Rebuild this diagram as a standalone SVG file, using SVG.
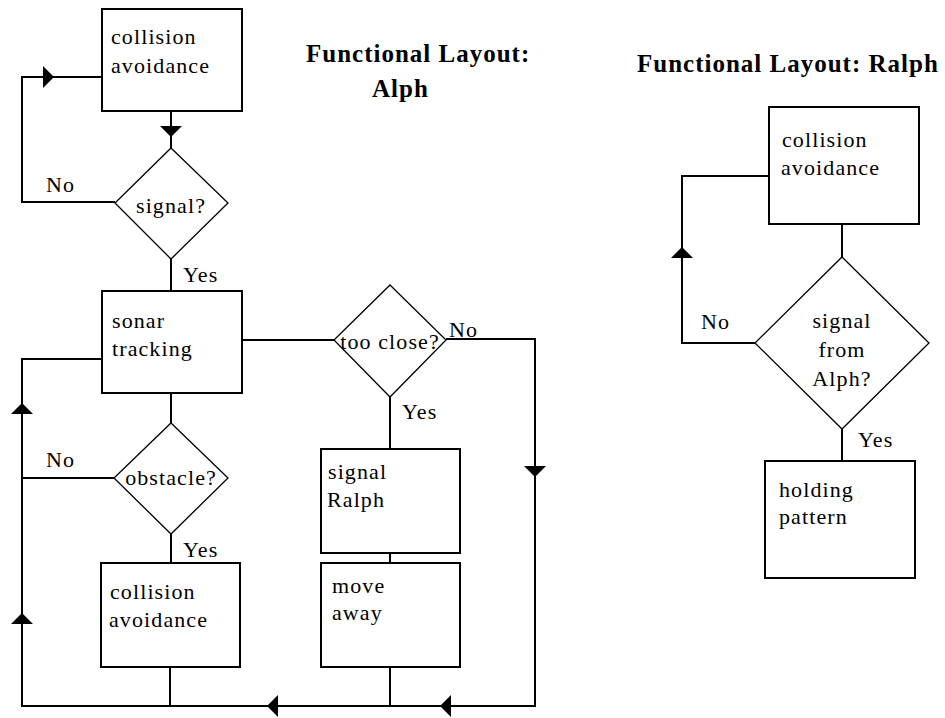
<svg xmlns="http://www.w3.org/2000/svg" xmlns:xlink="http://www.w3.org/1999/xlink" width="945" height="718" viewBox="0 0 945 718">
<style>
  .box { fill: #fff; stroke: #000; stroke-width: 2; }
  .dia { fill: #fff; stroke: #000; stroke-width: 1.3; }
  .ln { fill: none; stroke: #000; stroke-width: 2; }
  .t { font-family: "Liberation Serif", "Times New Roman", serif; font-size: 22px; letter-spacing: 1.1px; fill: #000; }
  .c { text-anchor: middle; }
  .title { font-family: "Liberation Serif", "Times New Roman", serif; font-size: 25px; font-weight: bold; letter-spacing: 1px; fill: #000; }
</style>
<defs>
  <path id="ah" d="M0,0 L-11,-11 L-11,11 Z" fill="#000"/>
</defs>
<rect width="945" height="718" fill="#fff"/>

<g id="connectors">
  <path class="ln" d="M102,77 H22 V202 H115"/>
  <path class="ln" d="M171,111 V148"/>
  <path class="ln" d="M171,259 V291"/>
  <path class="ln" d="M242,340 H334"/>
  <path class="ln" d="M446,339 H535 V706 H22 V359 H102"/>
  <path class="ln" d="M22,478 H114"/>
  <path class="ln" d="M171,393 V423"/>
  <path class="ln" d="M171,534 V563"/>
  <path class="ln" d="M170,667 V706"/>
  <path class="ln" d="M390,397 V449"/>
  <path class="ln" d="M390,553 V563"/>
  <path class="ln" d="M390,667 V706"/>
  <path class="ln" d="M769,176 H682 V343 H755"/>
  <path class="ln" d="M842,224 V257"/>
  <path class="ln" d="M842,429 V461"/>
  <use xlink:href="#ah" transform="translate(54,77)"/>
  <use xlink:href="#ah" transform="translate(171,137) rotate(90)"/>
  <use xlink:href="#ah" transform="translate(22,403) rotate(-90)"/>
  <use xlink:href="#ah" transform="translate(22,613) rotate(-90)"/>
  <use xlink:href="#ah" transform="translate(267,706) rotate(180)"/>
  <use xlink:href="#ah" transform="translate(440,706) rotate(180)"/>
  <use xlink:href="#ah" transform="translate(535,477) rotate(90)"/>
  <use xlink:href="#ah" transform="translate(682,247) rotate(-90)"/>
  <text class="t" x="46" y="192">No</text>
  <text class="t" x="183" y="282">Yes</text>
  <text class="t" x="449" y="337">No</text>
  <text class="t" x="402" y="419">Yes</text>
  <text class="t" x="46" y="467">No</text>
  <text class="t" x="183" y="557">Yes</text>
  <text class="t" x="701" y="329">No</text>
  <text class="t" x="858" y="447">Yes</text>
</g>

<g id="title-alph">
  <text class="title" x="306" y="62">Functional Layout:</text>
  <text class="title" x="372" y="97">Alph</text>
</g>
<g id="title-ralph">
  <text class="title" x="637" y="72">Functional Layout: Ralph</text>
</g>

<g id="alph-collision-top">
  <rect class="box" x="102" y="9" width="140" height="102"/>
  <text class="t" x="111" y="44">collision</text>
  <text class="t" x="111" y="73">avoidance</text>
</g>
<g id="alph-signal">
  <polygon class="dia" points="171,148 228,203 171,259 115,203"/>
  <text class="t c" x="171" y="213">signal?</text>
</g>
<g id="alph-sonar">
  <rect class="box" x="102" y="291" width="140" height="102"/>
  <text class="t" x="112" y="328">sonar</text>
  <text class="t" x="112" y="356">tracking</text>
</g>
<g id="alph-tooclose">
  <polygon class="dia" points="390,285 446,340 390,397 334,340"/>
  <text class="t c" x="390" y="349">too close?</text>
</g>
<g id="alph-obstacle">
  <polygon class="dia" points="171,423 228,478 171,534 114,478"/>
  <text class="t c" x="171" y="485">obstacle?</text>
</g>
<g id="alph-collision-bottom">
  <rect class="box" x="101" y="563" width="139" height="104"/>
  <text class="t" x="110" y="599">collision</text>
  <text class="t" x="109" y="627">avoidance</text>
</g>
<g id="alph-signal-ralph">
  <rect class="box" x="321" y="449" width="139" height="104"/>
  <text class="t" x="328" y="479">signal</text>
  <text class="t" x="327" y="507">Ralph</text>
</g>
<g id="alph-move-away">
  <rect class="box" x="321" y="563" width="139" height="104"/>
  <text class="t" x="332" y="593">move</text>
  <text class="t" x="332" y="620">away</text>
</g>

<g id="ralph-collision">
  <rect class="box" x="769" y="107" width="150" height="117"/>
  <text class="t" x="782" y="147">collision</text>
  <text class="t" x="781" y="175">avoidance</text>
</g>
<g id="ralph-signal">
  <polygon class="dia" points="842,257 929,343 842,429 755,343"/>
  <text class="t c" x="842" y="328">signal</text>
  <text class="t c" x="842" y="357">from</text>
  <text class="t c" x="842" y="386">Alph?</text>
</g>
<g id="ralph-holding">
  <rect class="box" x="765" y="461" width="150" height="117"/>
  <text class="t" x="779" y="497">holding</text>
  <text class="t" x="779" y="524">pattern</text>
</g>
</svg>
